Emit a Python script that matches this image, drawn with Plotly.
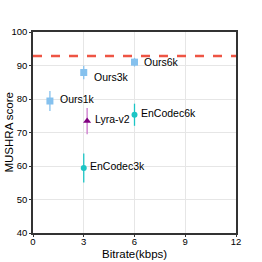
import plotly.graph_objects as go

names = ["Ours1k", "Ours3k", "Ours6k", "Lyra-v2", "EnCodec3k", "EnCodec6k"]
bitrates = [1.0, 3.0, 6.0, 3.2, 3.0, 6.0]
scores = [79.4, 87.9, 91.0, 73.4, 59.4, 75.3]
errors = [3.0, 2.0, 1.3, 3.9, 4.3, 3.3]
reference_score = 92.8

x_ticks = [0, 3, 6, 9, 12]
y_ticks = [40, 50, 60, 70, 80, 90, 100]
x_title = "Bitrate(kbps)"
y_title = "MUSHRA score"

groups = {
    "Ours": dict(idx=[0, 1, 2], color="#85C1EE", err="#85C1EE", symbol="square", size=7),
    "Lyra": dict(idx=[3], color="#800080", err="#CC77CC", symbol="triangle-up", size=7),
    "EnCodec": dict(idx=[4, 5], color="#1CC5C5", err="#1CC5C5", symbol="circle", size=6),
}
label_shift = {
    "Ours1k": (8, 2), "Ours3k": (8, -4), "Ours6k": (7, 0),
    "Lyra-v2": (6, 2), "EnCodec3k": (4, 2), "EnCodec6k": (4, 2),
}
FONT = "Liberation Sans, Arial"

fig = go.Figure()
fig.add_hline(y=reference_score, line=dict(color="#EE5544", width=2.5, dash="dash"))
for g in groups.values():
    fig.add_trace(go.Scatter(
        x=[bitrates[i] for i in g["idx"]],
        y=[scores[i] for i in g["idx"]],
        mode="markers",
        marker=dict(color=g["color"], symbol=g["symbol"], size=g["size"]),
        error_y=dict(type="data", array=[errors[i] for i in g["idx"]],
                     color=g["err"], thickness=1.3, width=0),
        showlegend=False,
    ))

for n, x, y in zip(names, bitrates, scores):
    dx, dy = label_shift[n]
    fig.add_annotation(x=x, y=y, text=n, showarrow=False, xanchor="left",
                       yanchor="middle", xshift=dx, yshift=dy,
                       font=dict(size=10.5, color="black", family=FONT))

# axis titles
fig.add_annotation(x=0.5, y=-0.105, xref="paper", yref="paper", text=x_title,
                   showarrow=False, xanchor="center", yanchor="middle",
                   font=dict(size=11.5, color="black", family=FONT))
fig.add_annotation(x=-0.123, y=0.5, xref="paper", yref="paper", text=y_title,
                   showarrow=False, textangle=-90, xanchor="center", yanchor="middle",
                   font=dict(size=11.5, color="black", family=FONT))

axis_common = dict(showgrid=True, gridcolor="#E6E6E6", gridwidth=1, zeroline=False,
                   showline=True, linecolor="#333333", linewidth=1.5, mirror=True,
                   ticks="outside", ticklen=2, tickcolor="#333333", automargin=False,
                   tickfont=dict(size=9.5, color="black"))
fig.update_xaxes(range=[0, 12], tickvals=x_ticks, ticklabelstandoff=-3, **axis_common)
fig.update_yaxes(range=[40, 100], tickvals=y_ticks, **axis_common)

fig.update_layout(width=262, height=262, margin=dict(l=33, r=26, t=32, b=29),
                  plot_bgcolor="white", paper_bgcolor="white",
                  font=dict(family=FONT, color="black"))
fig.write_html("out.html", config={"displayModeBar": False},
               post_script="document.body.style.margin='0';document.body.style.padding='0';")
